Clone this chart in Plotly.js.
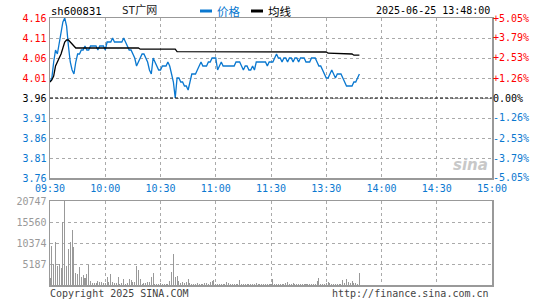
<!DOCTYPE html>
<html>
<head>
<meta charset="utf-8">
<script src="https://cdn.plot.ly/plotly-3.0.1.min.js"></script>
<style>html,body{margin:0;padding:0;background:#fff;}#chart{width:545px;height:300px;}</style>
</head>
<body>
<div id="chart"></div>
<script>
// ---------------- data ----------------
const stockCode = "sh600831";
const stockName = "ST广网";
const stampText = "2025-06-25 13:48:00";
const prevClose = 3.96;
const timeLabels = ["09:30","10:00","10:30","11:00","11:30","13:30","14:00","14:30","15:00"];
const timeTicks = [0,30,60,90,120,150,180,210,240];
const priceTicks = [3.76,3.81,3.86,3.91,3.96,4.01,4.06,4.11,4.16];
const pctTicks = [-5.05,-3.79,-2.53,-1.26,0.00,1.26,2.53,3.79,5.05];
const volTicks = [5187,10374,15560,20747];

// minute prices, index 0 = 09:30 ... 168 = 13:48
const price = [
 4.00,4.01,4.05,4.08,4.07,4.10,4.13,4.15,4.16,4.14,
 4.09,4.05,4.03,4.02,4.05,4.07,4.07,4.08,4.08,4.09,
 4.08,4.08,4.09,4.09,4.09,4.09,4.08,4.09,4.09,4.09,
 4.08,4.10,4.10,4.10,4.11,4.10,4.10,4.10,4.10,4.10,
 4.11,4.10,4.09,4.08,4.08,4.07,4.06,4.04,4.05,4.06,
 4.07,4.07,4.06,4.05,4.03,4.02,4.06,4.05,4.04,4.03,
 4.03,4.04,4.04,4.04,4.05,4.04,4.02,4.00,3.96,4.01,
 4.01,4.00,4.00,3.99,3.99,3.98,4.00,4.02,4.02,4.02,
 4.03,4.04,4.05,4.04,4.04,4.04,4.05,4.05,4.06,4.06,
 4.06,4.03,4.04,4.05,4.04,4.04,4.04,4.04,4.04,4.04,
 4.04,4.05,4.05,4.05,4.04,4.03,4.04,4.04,4.03,4.03,
 4.04,4.03,4.05,4.05,4.05,4.05,4.05,4.05,4.04,4.05,
 4.05,4.05,4.06,4.07,4.06,4.06,4.05,4.06,4.06,4.05,
 4.06,4.06,4.05,4.06,4.06,4.05,4.06,4.06,4.06,4.05,
 4.05,4.05,4.06,4.06,4.06,4.05,4.04,4.04,4.03,4.02,
 4.01,4.01,4.02,4.03,4.02,4.01,4.02,4.02,4.02,4.01,
 4.00,3.99,3.99,3.99,3.99,4.00,4.00,4.01,4.02
];

// average price line, read at its visible change points
const avgIdx = [0,1,2,3,4,5,6,7,8,9,10,11,12,13,14,48,49,68,69,150,151,164,165,168];
const avgVal = [4.000,4.005,4.015,4.040,4.050,4.060,4.070,4.085,4.100,4.105,4.105,4.100,4.095,4.088,4.085,4.085,4.082,4.082,4.076,4.075,4.072,4.070,4.067,4.067];

// minute volumes
const volume = [
 1800,9630,5260,10700,4690,5260,4100,15630,20747,4690,
 8970,10700,13590,9460,3040,2620,4450,1980,2470,1800,
 2790,4940,990,570,570,500,990,740,740,570,
 400,1980,650,2790,820,400,570,1980,330,400,
 1480,330,570,1480,1150,820,820,4690,3800,1480,
 330,570,400,820,820,1980,3040,330,330,330,
 570,330,330,330,330,990,3290,7730,1980,2220,
 990,570,820,570,820,1480,570,330,330,330,
 570,330,330,330,400,570,330,740,990,1150,
 330,330,330,330,330,330,820,570,330,330,
 330,330,330,1150,330,330,330,330,330,330,
 330,330,570,330,330,330,330,330,330,330,
 330,1480,330,330,330,330,330,330,570,820,
 330,330,570,330,330,330,330,330,330,330,
 330,330,330,330,330,990,1800,330,330,330,
 570,820,570,330,330,330,330,330,330,1320,
 570,1480,820,570,990,570,570,330,3040
];

// ---------------- styling ----------------
const RED = "#ff0000", BLUE = "#0a78d0", BLACK = "#000000", GRAY = "#999999";
const MONO = "DejaVu Sans Mono, Liberation Mono, monospace";
const CJK = "DejaVu Sans Mono, Noto Sans CJK SC, sans-serif";

const idx = price.map((_, i) => i);
const volIdx = volume.map((_, i) => i);

function priceColor(v) { return Math.abs(v - prevClose) < 1e-6 ? BLACK : (v > prevClose ? RED : BLUE); }
function pctColor(v) { return Math.abs(v) < 1e-6 ? BLACK : (v > 0 ? RED : BLUE); }
const priceText = priceTicks.map(v => '<span style="color:' + priceColor(v) + '">' + v.toFixed(2) + '</span>');
const pctText = pctTicks.map(v => '<span style="color:' + pctColor(v) + '">' + (v > 0 ? '+' : (v < 0 ? '-' : '')) + Math.abs(v).toFixed(2) + '%</span>');
const pctMax = (priceTicks[priceTicks.length - 1] - prevClose) / prevClose * 100;

// pixel helpers for decorations (plot area 50..492 x, 18..285 y)
const L = 50, R = 492, T = 18, B = 285;
const px = x => (x - L) / (R - L);
const py = y => (B - y) / (B - T);

const traces = [
  {x: idx, y: price, type: 'scatter', mode: 'lines', line: {color: BLUE, width: 1.3}, xaxis: 'x', yaxis: 'y', hoverinfo: 'skip'},
  {x: avgIdx, y: avgVal, type: 'scatter', mode: 'lines', line: {color: BLACK, width: 1.3}, xaxis: 'x', yaxis: 'y', hoverinfo: 'skip'},
  {x: volIdx, y: volume, type: 'bar', marker: {color: GRAY, line: {width: 0}}, width: 0.55, xaxis: 'x2', yaxis: 'y2', hoverinfo: 'skip'},
  {x: [0, 240], y: [0, 0], type: 'scatter', mode: 'lines', line: {width: 0}, xaxis: 'x', yaxis: 'y3', hoverinfo: 'skip', showlegend: false}
];

const gridCommon = {showgrid: true, gridcolor: '#aaaaaa', griddash: 'dot', gridwidth: 1, zeroline: false,
  showline: true, linecolor: GRAY, linewidth: 1.5, mirror: true, ticks: '', fixedrange: true};

const layout = {
  width: 545, height: 300,
  margin: {l: L, r: 545 - R, t: T, b: 300 - B, pad: 0},
  paper_bgcolor: '#ffffff', plot_bgcolor: '#ffffff',
  showlegend: false,
  bargap: 0,
  font: {family: MONO, size: 10, color: BLACK},
  xaxis: Object.assign({}, gridCommon, {domain: [0, 1], range: [0, 240], anchor: 'y', tickmode: 'array',
    tickvals: timeTicks, ticktext: timeLabels, tickfont: {family: MONO, size: 10, color: BLUE}}),
  yaxis: Object.assign({}, gridCommon, {domain: [(B - 178) / (B - T), 1], range: [priceTicks[0], priceTicks[priceTicks.length - 1]],
    anchor: 'x', tickmode: 'array', tickvals: priceTicks, ticktext: priceText, tickfont: {family: MONO, size: 10}}),
  yaxis3: {overlaying: 'y', side: 'right', anchor: 'x', range: [-pctMax, pctMax], tickmode: 'array', tickvals: pctTicks,
    ticktext: pctText, tickfont: {family: MONO, size: 10}, showgrid: false, zeroline: false, showline: false, ticks: '', fixedrange: true},
  xaxis2: Object.assign({}, gridCommon, {domain: [0, 1], range: [0, 240], anchor: 'y2', tickmode: 'array',
    tickvals: timeTicks, showticklabels: false}),
  yaxis2: Object.assign({}, gridCommon, {domain: [0, (B - 201) / (B - T)], range: [0, volTicks[volTicks.length - 1]], anchor: 'x2',
    tickmode: 'array', tickvals: volTicks, ticktext: volTicks.map(String), tickfont: {family: MONO, size: 10, color: GRAY}}),
  shapes: [
    {type: 'line', xref: 'x', yref: 'y', x0: 0, x1: 240, y0: prevClose, y1: prevClose, line: {color: BLACK, width: 1, dash: '3px,2px'}},
    {type: 'line', xref: 'paper', yref: 'paper', x0: px(200), x1: px(212), y0: py(11), y1: py(11), line: {color: BLUE, width: 3}},
    {type: 'line', xref: 'paper', yref: 'paper', x0: px(251), x1: px(263), y0: py(11), y1: py(11), line: {color: BLACK, width: 3}}
  ],
  annotations: [
    {xref: 'paper', yref: 'paper', x: px(49), y: py(11), xanchor: 'left', yanchor: 'middle', showarrow: false, text: stockCode, font: {family: MONO, size: 10.5, color: BLACK}},
    {xref: 'paper', yref: 'paper', x: px(120), y: py(11), xanchor: 'left', yanchor: 'middle', showarrow: false, text: stockName, font: {family: CJK, size: 11, color: '#222222'}},
    {xref: 'paper', yref: 'paper', x: px(215), y: py(11), xanchor: 'left', yanchor: 'middle', showarrow: false, text: '价格', font: {family: 'Noto Sans CJK SC', size: 11.5, color: BLUE}},
    {xref: 'paper', yref: 'paper', x: px(266), y: py(11), xanchor: 'left', yanchor: 'middle', showarrow: false, text: '均线', font: {family: 'Noto Sans CJK SC', size: 11.5, color: BLACK}},
    {xref: 'paper', yref: 'paper', x: px(492), y: py(11), xanchor: 'right', yanchor: 'middle', showarrow: false, text: stampText, font: {family: MONO, size: 10, color: BLACK}},
    {xref: 'paper', yref: 'paper', x: px(48), y: py(293), xanchor: 'left', yanchor: 'middle', showarrow: false, text: 'Copyright 2025 SINA.COM', font: {family: MONO, size: 10, color: '#444444'}},
    {xref: 'paper', yref: 'paper', x: px(491), y: py(293), xanchor: 'right', yanchor: 'middle', showarrow: false, text: 'http://finance.sina.com.cn', font: {family: MONO, size: 10, color: '#444444'}},
    {xref: 'paper', yref: 'paper', x: px(470), y: py(165), xanchor: 'center', yanchor: 'middle', showarrow: false, text: '<b><i>sina</i></b>', font: {family: 'DejaVu Sans', size: 15, color: '#c8c8c8'}}
  ]
};

Plotly.newPlot('chart', traces, layout, {staticPlot: true, displayModeBar: false});
</script>
</body>
</html>
